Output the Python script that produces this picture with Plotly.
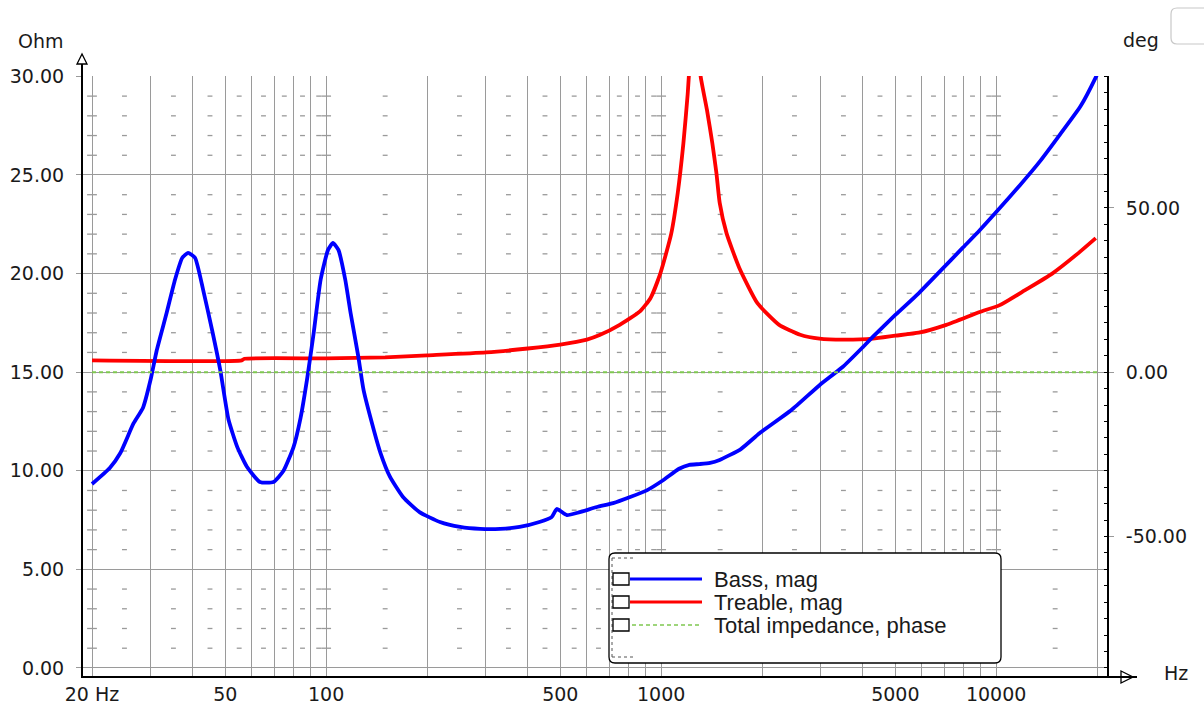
import math
import plotly.graph_objects as go

# ---------------- data ----------------
freq_bass = [20, 22.6, 24.3, 26.6, 28.4, 29.9, 31.2, 33.4, 35.4, 37.2, 38.7, 40.6, 42.9, 45.7,
             48.3, 51.1, 54.3, 58.0, 63.4, 69.6, 74.6, 79.9, 83.9, 87.9, 91.8, 96.3, 101.3,
             104.8, 108.8, 114, 118.3, 124.7, 129.3, 138.8, 145.3, 155, 169.6, 190, 218.6,
             251, 288, 331, 378, 433, 471, 488, 523, 571, 643, 719, 808, 909, 1016, 1131,
             1214, 1303, 1400, 1495, 1730, 1966, 2448, 2970, 3480, 4000, 4290, 5000, 5870,
             6760, 7940, 8930, 10050, 11776, 13527, 15540, 17853, 19830, 20500]
z_bass = [9.33, 10.14, 10.9, 12.4, 13.2, 14.6, 16.1, 18.0, 19.7, 20.8, 21.05, 20.8, 19.2, 17.1,
          15.1, 12.6, 11.2, 10.2, 9.43, 9.43, 10.0, 11.2, 12.7, 14.75, 17.0, 19.7, 21.2,
          21.55, 21.2, 19.7, 18.0, 15.8, 14.1, 12.06, 10.9, 9.7, 8.67, 7.9, 7.4,
          7.15, 7.05, 7.05, 7.15, 7.4, 7.65, 8.06, 7.75, 7.9, 8.16, 8.36, 8.67, 9.02, 9.53, 10.1,
          10.3, 10.34, 10.4, 10.55, 11.1, 11.9, 13.08, 14.34, 15.26, 16.27, 16.8, 17.9, 19.0,
          20.07, 21.3, 22.2, 23.16, 24.48, 25.7, 27.07, 28.48, 29.95, 30.5]

freq_treble = [20, 56, 57, 100, 150, 200, 300, 400, 500, 600, 655, 752, 866, 929, 994, 1071,
               1121, 1165, 1200, 1230, 1260, 1290, 1312, 1370, 1422, 1462, 1495, 1567, 1710,
               1938, 2250, 2600, 2970, 3500, 4290, 5000, 5870, 7100, 8930, 10250, 12200,
               14700, 17480, 19830]
z_treble = [15.6, 15.6, 15.68, 15.7, 15.75, 15.85, 16.0, 16.2, 16.4, 16.65, 16.88, 17.4, 18.1,
            18.75, 20.0, 22.0, 24.1, 26.6, 29.1, 31.8, 33.0, 31.5, 30.0, 28.3, 26.6, 25.1,
            23.6, 22.05, 20.3, 18.5, 17.4, 16.9, 16.7, 16.65, 16.7, 16.85, 17.0, 17.4, 18.05,
            18.4, 19.16, 20.0, 21.0, 21.8]

freq_phase = [20, 100, 1000, 10000, 20000]
phase_total = [0, 0, 0, 0, 0]

grid_freqs = [20, 30, 40, 50, 60, 70, 80, 90, 100, 200, 300, 400, 500, 600, 700, 800, 900,
              1000, 2000, 3000, 4000, 5000, 6000, 7000, 8000, 9000, 10000, 20000]
x_labels = {20: "20 Hz", 50: "50", 100: "100", 500: "500", 1000: "1000", 5000: "5000",
            10000: "10000"}
series_names = ["Bass, mag", "Treable, mag", "Total impedance, phase"]

# ---------------- geometry helpers (pixels -> paper) ----------------
L, R, T, B = 82, 1107, 76, 677
W, H = R - L, B - T


def px(x):
    return (x - L) / W


def py(y):
    return (B - y) / H


def rrect(x0, y0, x1, y1, r):
    pts = [("M", [(x0 + r, y0)]), ("L", [(x1 - r, y0)]), ("Q", [(x1, y0), (x1, y0 + r)]),
           ("L", [(x1, y1 - r)]), ("Q", [(x1, y1), (x1 - r, y1)]), ("L", [(x0 + r, y1)]),
           ("Q", [(x0, y1), (x0, y1 - r)]), ("L", [(x0, y0 + r)]), ("Q", [(x0, y0), (x0 + r, y0)])]
    s = ""
    for cmd, ps in pts:
        s += cmd + " " + " ".join(f"{px(a):.5f},{py(b):.5f}" for a, b in ps) + " "
    return s + "Z"


GRID = "#9a9a9a"
BLUE = "#0000ff"
RED = "#ff0000"
GREEN = "#7fc850"
NUMFONT = dict(family="DejaVu Sans", size=19, color="#1a1a1a")
TXTFONT = dict(family="Liberation Sans", size=22, color="#1a1a1a")

fig = go.Figure()

# decorative minor grid dashes
mid_x = [(grid_freqs[i] + grid_freqs[i + 1]) / 2 for i in range(len(grid_freqs) - 1)]
minor_y = [v for v in range(1, 30) if v % 5 != 0]
mx, my = [], []
for xv in mid_x:
    for yv in minor_y:
        mx.append(xv)
        my.append(yv)
fig.add_trace(go.Scatter(x=mx, y=my, mode="markers", hoverinfo="skip", showlegend=False,
                         marker=dict(symbol="line-ew", size=3.5, line=dict(width=1.3, color="#9a9a9a"))))
dx, dy = [], []
for xv in [20, 100, 1000, 10000]:
    for yv in minor_y:
        dx.append(xv)
        dy.append(yv)
fig.add_trace(go.Scatter(x=dx, y=dy, mode="markers", hoverinfo="skip", showlegend=False,
                         marker=dict(symbol="line-ew", size=7, line=dict(width=1.3, color="#9a9a9a"))))

fig.add_trace(go.Scatter(x=freq_phase, y=phase_total, yaxis="y2", mode="lines",
                         name=series_names[2], showlegend=False,
                         line=dict(color=GREEN, width=2, dash="4px,3px")))
fig.add_trace(go.Scatter(x=freq_treble, y=z_treble, mode="lines", name=series_names[1],
                         showlegend=False, line=dict(color=RED, width=3.8, shape="spline", smoothing=0.5)))
fig.add_trace(go.Scatter(x=freq_bass, y=z_bass, mode="lines", name=series_names[0],
                         showlegend=False, line=dict(color=BLUE, width=3.8, shape="spline", smoothing=0.5)))

xr = [math.log10(20) - 10 / 335, math.log10(20000) + 10 / 335]
y_lo, y_hi = -0.46, 30.02
ratio = 6.0

fig.update_layout(
    width=1204, height=711,
    autosize=False,
    margin=dict(l=L, r=1204 - R, t=T, b=711 - B, pad=0, autoexpand=False),
    paper_bgcolor="white", plot_bgcolor="white",
    showlegend=False,
    xaxis=dict(type="log", range=xr, tickmode="array", tickvals=grid_freqs,
               ticktext=[x_labels.get(f, "") for f in grid_freqs], automargin=False,
               showgrid=True, gridcolor=GRID, gridwidth=1.3, ticks="", showline=False,
               zeroline=False, tickfont=NUMFONT, ticklabelstandoff=4),
    yaxis=dict(range=[y_lo, y_hi], tickmode="array", tickvals=[0, 5, 10, 15, 20, 25, 30],
               tickformat=".2f", showgrid=True, gridcolor=GRID, gridwidth=1.3, automargin=False,
               ticks="outside", ticklen=5, tickcolor=GRID, tickwidth=1.3, showline=False,
               zeroline=False, tickfont=NUMFONT, ticklabelstandoff=8),
    yaxis2=dict(overlaying="y", side="right", range=[(y_lo - 15) * ratio, (y_hi - 15) * ratio],
                tickmode="array", tickvals=[-50, 0, 50], ticktext=["-50.00", "0.00", "50.00"],
                showgrid=False, zeroline=False, showline=True, linecolor="black", linewidth=2,
                ticks="outside", ticklen=5, tickcolor=GRID, tickwidth=1.3, automargin=False,
                minor=dict(tickmode="linear", tick0=0, dtick=5, ticks="inside", ticklen=3,
                           tickcolor="black", tickwidth=1, showgrid=False),
                tickfont=NUMFONT, ticklabelstandoff=8),
)

shapes = []
# left axis with arrow
shapes.append(dict(type="line", xref="paper", yref="paper", x0=px(82), x1=px(82), y0=py(677), y1=py(55),
                   line=dict(color="black", width=2)))
shapes.append(dict(type="path", xref="paper", yref="paper",
                   path=f"M {px(82):.5f},{py(54):.5f} L {px(77):.5f},{py(64):.5f} L {px(87):.5f},{py(64):.5f} Z",
                   fillcolor="white", line=dict(color="black", width=1.3)))
# bottom axis with arrow
shapes.append(dict(type="line", xref="paper", yref="paper", x0=px(81), x1=px(1137), y0=py(677), y1=py(677),
                   line=dict(color="black", width=2)))
shapes.append(dict(type="path", xref="paper", yref="paper",
                   path=f"M {px(1121):.5f},{py(671):.5f} L {px(1133):.5f},{py(677):.5f} L {px(1121):.5f},{py(683):.5f} Z",
                   fillcolor="white", line=dict(color="black", width=1.3)))
shapes.append(dict(type="line", xref="paper", yref="paper", x0=px(1121), x1=px(1137), y0=py(677), y1=py(677),
                   line=dict(color="black", width=2)))
# top-right button remnant
shapes.append(dict(type="path", xref="paper", yref="paper", path=rrect(1171, 8, 1215, 44, 6),
                   fillcolor="white", line=dict(color="#c8c8c8", width=1.2)))
# legend box
shapes.append(dict(type="path", xref="paper", yref="paper", layer="above", path=rrect(609, 553, 1001, 663, 6),
                   fillcolor="white", line=dict(color="black", width=1.3)))
# focus dotted lines
for y0 in [558, 657]:
    shapes.append(dict(type="line", xref="paper", yref="paper", layer="above",
                       x0=px(612), x1=px(633), y0=py(y0), y1=py(y0),
                       line=dict(color="#555", width=1, dash="dot")))
shapes.append(dict(type="line", xref="paper", yref="paper", layer="above",
                   x0=px(612), x1=px(612), y0=py(558), y1=py(657),
                   line=dict(color="#555", width=1, dash="dot")))
row_y = [579, 602, 625]
row_col = [BLUE, RED, GREEN]
for i, yc in enumerate(row_y):
    shapes.append(dict(type="rect", xref="paper", yref="paper", layer="above",
                       x0=px(613), x1=px(629), y0=py(yc - 6), y1=py(yc + 6),
                       fillcolor="white", line=dict(color="black", width=1.3)))
    if i < 2:
        shapes.append(dict(type="line", xref="paper", yref="paper", layer="above",
                           x0=px(630), x1=px(702), y0=py(yc), y1=py(yc),
                           line=dict(color=row_col[i], width=3)))
    else:
        shapes.append(dict(type="line", xref="paper", yref="paper", layer="above",
                           x0=px(632), x1=px(702), y0=py(yc), y1=py(yc),
                           line=dict(color=row_col[i], width=1.6, dash="4px,3px")))
fig.update_layout(shapes=shapes)

ann = []
for i, yc in enumerate(row_y):
    ann.append(dict(xref="paper", yref="paper", x=px(712), y=py(yc), text=series_names[i],
                    showarrow=False, xanchor="left", yanchor="middle", font=TXTFONT))
ann.append(dict(xref="paper", yref="paper", x=px(41), y=py(41), text="Ohm", showarrow=False,
                xanchor="center", yanchor="middle", font=NUMFONT))
ann.append(dict(xref="paper", yref="paper", x=px(1141), y=py(40), text="deg", showarrow=False,
                xanchor="center", yanchor="middle", font=NUMFONT))
ann.append(dict(xref="paper", yref="paper", x=px(1176), y=py(673), text="Hz", showarrow=False,
                xanchor="center", yanchor="middle", font=NUMFONT))
fig.update_layout(annotations=ann)

fig.write_html("out.html", config={"displayModeBar": False})
